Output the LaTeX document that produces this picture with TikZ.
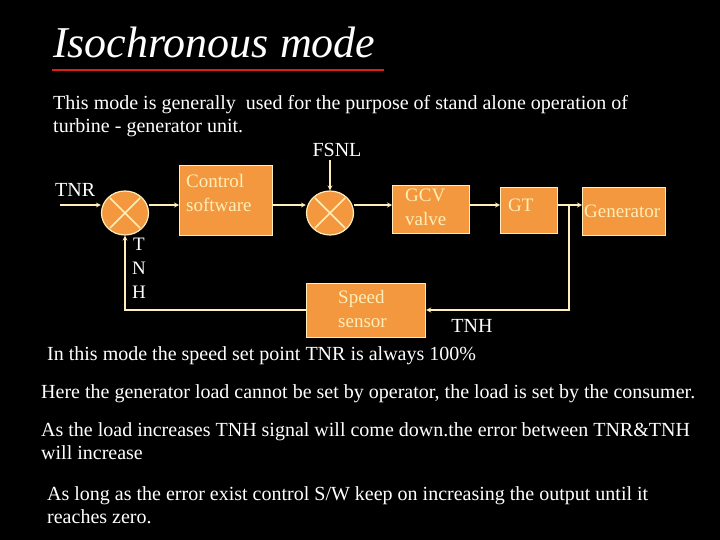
\documentclass[tikz,border=0pt]{standalone}
\usepackage{fontspec}
\setmainfont{Liberation Serif}
\definecolor{blockfill}{RGB}{243, 152, 62}
\definecolor{cream}{RGB}{255, 238, 185}
\definecolor{titlered}{RGB}{220, 30, 20}
\usetikzlibrary{arrows,positioning,calc,shapes.geometric}

\begin{document}
\begin{tikzpicture}[x=1pt, y=-1pt,
    block/.style={rectangle, draw=cream, line width=1.2pt, fill=blockfill, anchor=north west},
    blocktext/.style={text=cream, font=\fontsize{19}{24}\selectfont, align=left, inner sep=0pt},
    summer/.style={ellipse, draw=cream, line width=1.2pt, fill=blockfill, minimum width=47pt, minimum height=44pt, inner sep=0pt},
    sig/.style={->, >=stealth, draw=cream, line width=1.2pt},
    txt/.style={text=white, font=\fontsize{20}{23}\selectfont, align=left, anchor=north west, inner sep=0pt}]
    \fill[black] (0,0) rectangle (720,540);
    \useasboundingbox (0,0) rectangle (720,540);

    % Title
    \node[text=white, font=\fontsize{44}{48}\selectfont\itshape, anchor=west, inner sep=0pt] (title) at (53,42) {Isochronous mode};
    \draw[titlered, line width=1.5pt] (52,70) -- (384,70);
    \node[txt] (intro) at (53,95) {This mode is generally\ \ used for the purpose of stand alone operation of\\turbine - generator unit.};

    % Blocks
    \node[summer] (sum_tnr) at (125,213) {};
    \draw[cream, line width=1.5pt] ($(sum_tnr.center)+(-15,-15)$) -- ($(sum_tnr.center)+(15,15)$);
    \draw[cream, line width=1.5pt] ($(sum_tnr.center)+(-15,15)$) -- ($(sum_tnr.center)+(15,-15)$);
    \node[block, minimum width=93pt, minimum height=70pt] (control) at (179,165) {};
    \node[blocktext, anchor=north west] at (186,174) {Control\\software};
    \node[summer] (sum_fsnl) at (330,213) {};
    \draw[cream, line width=1.5pt] ($(sum_fsnl.center)+(-15,-15)$) -- ($(sum_fsnl.center)+(15,15)$);
    \draw[cream, line width=1.5pt] ($(sum_fsnl.center)+(-15,15)$) -- ($(sum_fsnl.center)+(15,-15)$);
    \node[block, minimum width=77pt, minimum height=48pt] (gcv) at (392,185) {};
    \node[blocktext, anchor=north west] at (405,189) {GCV\\valve};
    \node[block, minimum width=57pt, minimum height=46pt] (gt) at (500,187) {};
    \node[blocktext, anchor=west] at (508,205) {GT};
    \node[block, minimum width=83pt, minimum height=48pt] (generator) at (582,187) {};
    \node[blocktext, anchor=west] at (584,211) {Generator};
    \node[block, minimum width=119pt, minimum height=54pt] (sensor) at (306,283) {};
    \node[blocktext, anchor=north west] at (338,290) {Speed\\sensor};

    % Signal labels
    \node[txt, anchor=west] (tnr) at (55,190) {TNR};
    \node[txt, anchor=center] (fsnl) at (337,150) {FSNL};
    \node[txt, anchor=north, align=center, font=\fontsize{19}{24}\selectfont] (tnh_v) at (139,238) {T\\N\\H};
    \node[txt, anchor=center] (tnh) at (472,326) {TNH};
    \coordinate (tnr_in) at (60,205);
    \coordinate (fsnl_in) at (330,160);
    \coordinate (branch) at (569,205);
    \coordinate (fb_right) at (569,310);
    \coordinate (fb_left) at (125,310);

    % Connections
    \draw[sig] (tnr_in) -- (sum_tnr.west |- tnr_in);
    \draw[sig] (sum_tnr.east |- tnr_in) -- (control.west |- tnr_in);
    \draw[sig] (control.east |- tnr_in) -- (sum_fsnl.west |- tnr_in);
    \draw[sig] (fsnl_in) -- (sum_fsnl.north);
    \draw[sig] (sum_fsnl.east |- tnr_in) -- (gcv.west |- tnr_in);
    \draw[sig] (gcv.east |- tnr_in) -- (gt.west |- tnr_in);
    \draw[sig] (gt.east |- tnr_in) -- (generator.west |- tnr_in);
    \draw[sig] (branch) -- (fb_right) -- (sensor.east |- fb_right);
    \draw[sig] (sensor.west |- fb_left) -- (fb_left) -- (sum_tnr.south);

    % Notes
    \node[txt] (note1) at (47,346) {In this mode the speed set point TNR is always 100\%};
    \node[txt] (note2) at (41,384) {Here the generator load cannot be set by operator, the load is set by the consumer.};
    \node[txt] (note3) at (41,422) {As the load increases TNH signal will come down.the error between TNR\&TNH\\will increase};
    \node[txt] (note4) at (47,486) {As long as the error exist control S/W keep on increasing the output until it\\reaches zero.};
\end{tikzpicture}
\end{document}
